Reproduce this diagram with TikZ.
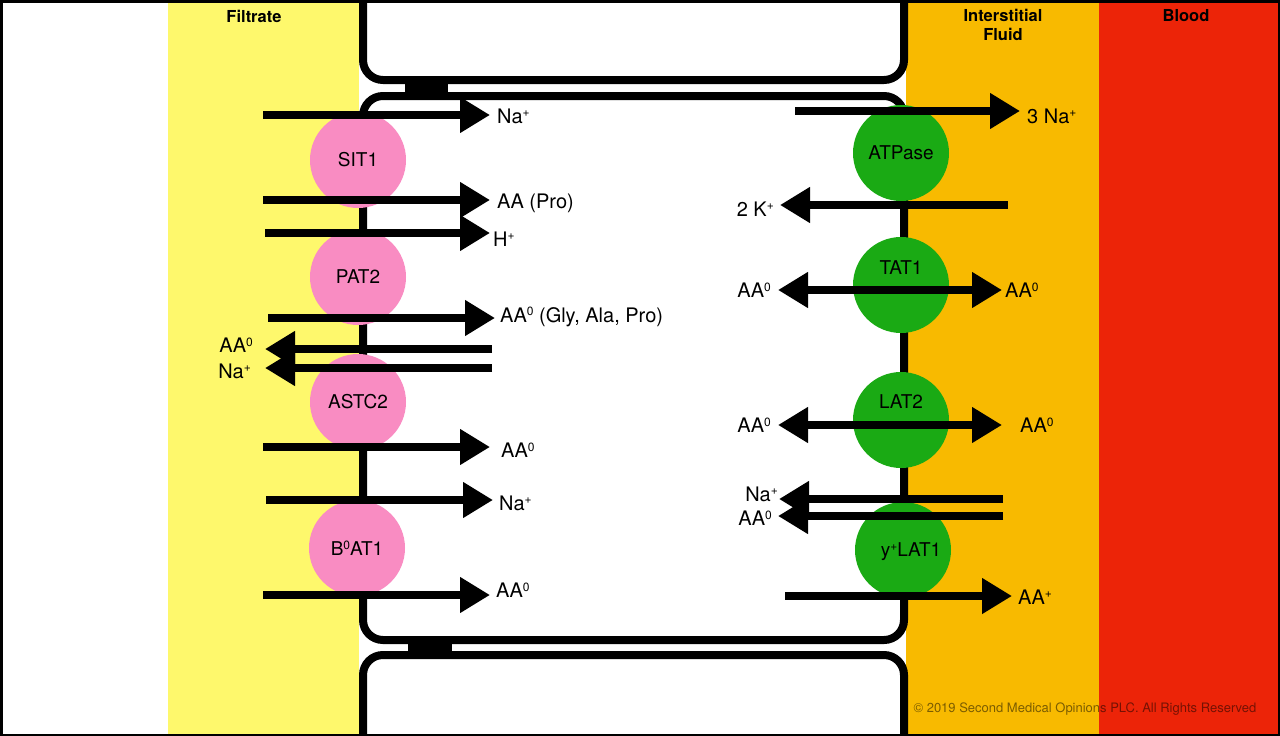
\documentclass[tikz,border=0pt]{standalone}
\usepackage{fontspec}
\setmainfont{TeX Gyre Heros}
\usepackage{tikz}
\usetikzlibrary{arrows.meta}
\definecolor{filtrate}{RGB}{254,248,108}
\definecolor{interstitial}{RGB}{248,186,0}
\definecolor{blood}{RGB}{236,36,8}
\definecolor{apical}{RGB}{249,140,194}
\definecolor{basal}{RGB}{26,170,20}
\newcommand{\chg}[1]{\raisebox{0.62ex}{\fontsize{12}{12}\selectfont #1}}
\tikzstyle{membrane}=[line width=8pt,rounded corners=20pt]
\tikzstyle{carrier}=[circle,minimum size=96pt,inner sep=0pt,font=\fontsize{19}{22}\selectfont]
\tikzstyle{ion}=[font=\fontsize{20}{24}\selectfont,inner sep=3pt]
\tikzstyle{region}=[font=\bfseries\fontsize{16.5}{19}\selectfont,align=center]
\tikzstyle{flux}=[line width=8pt,-{Triangle[length=30pt,width=34pt]}]
\tikzstyle{flux2}=[line width=8pt,{Triangle[length=30pt,width=34pt]}-{Triangle[length=30pt,width=34pt]}]

\begin{document}
\begin{tikzpicture}[x=1pt,y=-1pt]
    \useasboundingbox (0,0) rectangle (1280,736);
    \clip (0,0) rectangle (1280,736);
    \fill[white] (0,0) rectangle (1280,736);
    \fill[filtrate] (168,0) rectangle (359,736);
    \fill[interstitial] (906,0) rectangle (1099,736);
    \fill[blood] (1099,0) rectangle (1280,736);
    \node[region] (filt) at (254,16) {Filtrate};
    \node[region,anchor=north] (isf) at (1003,6) {Interstitial\\Fluid};
    \node[region] (bld) at (1186,16) {Blood};
    % cells and tight junctions
    \draw[membrane,fill=white] (363,-40) rectangle (904,80);
    \draw[membrane,fill=white] (363,96) rectangle (904,640);
    \draw[membrane,fill=white] (363,655) rectangle (904,790);
    \fill (405,80) rectangle (448,96);
    \fill (408,640) rectangle (452,655);
    % apical transporters
    \node[carrier,fill=apical] (sit) at (358,160) {SIT1};
    \node[carrier,fill=apical] (pat) at (358,277) {PAT2};
    \node[carrier,fill=apical] (astc) at (358,402) {ASTC2};
    \node[carrier,fill=apical] (boat) at (357,548) {B\chg{0}AT1};
    % basolateral transporters
    \node[carrier,fill=basal] (atp) at (901,153) {ATPase};
    \node[carrier,fill=basal,label={[carrier,name=tatT,yshift=17pt]center:TAT1}] (tat) at (901,285) {};
    \node[carrier,fill=basal,label={[carrier,name=latT,yshift=18pt]center:LAT2}] (lat) at (901,420) {};
    \node[carrier,fill=basal,label={[carrier,name=ylatT,xshift=8pt,yshift=-2pt]center:y\chg{+}LAT1}] (ylat) at (903,550) {};
    % apical fluxes
    \coordinate (a1) at (263,115);
    \node[ion,anchor=west,inner xsep=7pt] (naA) at (490,116) {Na\chg{+}};
    \draw[flux] (a1) -- (naA.west |- a1);
    \coordinate (a2) at (263,200);
    \node[ion,anchor=west,inner xsep=7pt] (pro) at (490,203) {AA (Pro)};
    \draw[flux] (a2) -- (pro.west |- a2);
    \coordinate (a3) at (265,233);
    \node[ion,anchor=west,inner xsep=3pt] (hA) at (490,239) {H\chg{+}};
    \draw[flux] (a3) -- (hA.west |- a3);
    \coordinate (a4) at (268,318);
    \node[ion,anchor=west,inner xsep=5pt] (gly) at (495,317) {AA\chg{0} (Gly, Ala, Pro)};
    \draw[flux] (a4) -- (gly.west |- a4);
    \coordinate (a5) at (492,349);
    \node[ion,anchor=east,inner xsep=12pt] (aaB) at (265,345) {AA\chg{0}};
    \draw[flux] (a5) -- (aaB.east |- a5);
    \coordinate (a6) at (492,368);
    \node[ion,anchor=east,inner xsep=14pt] (naB) at (265,371) {Na\chg{+}};
    \draw[flux] (a6) -- (naB.east |- a6);
    \coordinate (a7) at (263,447);
    \node[ion,anchor=west,inner xsep=11pt] (aaC) at (490,450) {AA\chg{0}};
    \draw[flux] (a7) -- (aaC.west |- a7);
    \coordinate (a8) at (266,500);
    \node[ion,anchor=west,inner xsep=6pt] (naC) at (493,503) {Na\chg{+}};
    \draw[flux] (a8) -- (naC.west |- a8);
    \coordinate (a9) at (263,595);
    \node[ion,anchor=west,inner xsep=6pt] (aaD) at (490,590) {AA\chg{0}};
    \draw[flux] (a9) -- (aaD.west |- a9);
    % basolateral fluxes
    \coordinate (b1) at (795,111);
    \node[ion,anchor=west,inner xsep=7pt] (naE) at (1020,116) {3 Na\chg{+}};
    \draw[flux] (b1) -- (naE.west |- b1);
    \coordinate (b2) at (1008,205);
    \node[ion,anchor=east,inner xsep=6pt] (kE) at (780,209) {2 K\chg{+}};
    \draw[flux] (b2) -- (kE.east |- b2);
    \node[ion,anchor=east,inner xsep=7pt] (aaF) at (778,290) {AA\chg{0}};
    \node[ion,anchor=west,inner xsep=3pt] (aaG) at (1002,290) {AA\chg{0}};
    \draw[flux2] (aaF.east) -- (aaG.west);
    \node[ion,anchor=east,inner xsep=7pt] (aaH) at (778,425) {AA\chg{0}};
    \node[ion,anchor=west,inner xsep=18pt] (aaI) at (1002,425) {AA\chg{0}};
    \draw[flux2] (aaH.east) -- (aaI.west);
    \coordinate (b5) at (1003,499);
    \node[ion,anchor=east,inner xsep=1pt] (naJ) at (779,494) {Na\chg{+}};
    \draw[flux] (b5) -- (naJ.east |- b5);
    \coordinate (b6) at (1003,516);
    \node[ion,anchor=east,inner xsep=6pt] (aaJ) at (778,518) {AA\chg{0}};
    \draw[flux] (b6) -- (aaJ.east |- b6);
    \coordinate (b7) at (785,596);
    \node[ion,anchor=west,inner xsep=6pt] (aaK) at (1012,597) {AA\chg{+}};
    \draw[flux] (b7) -- (aaK.west |- b7);
    \node[font=\fontsize{13}{15}\selectfont,text=black,text opacity=0.5] (copy) at (1085,709) {© 2019 Second Medical Opinions PLC. All Rights Reserved};
    \draw[line width=5pt] (0,0) rectangle (1280,736);
\end{tikzpicture}
\end{document}
